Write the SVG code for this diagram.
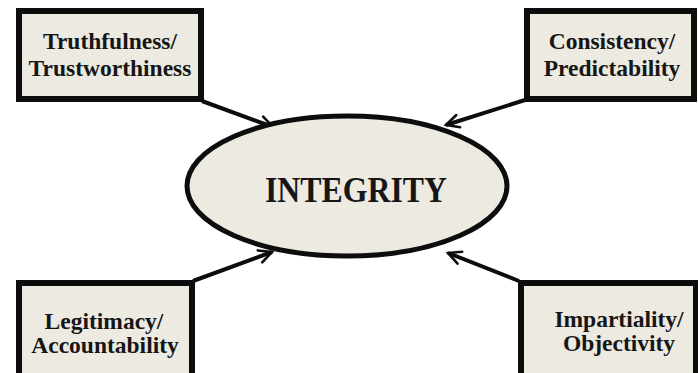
<svg xmlns="http://www.w3.org/2000/svg" width="698" height="373" viewBox="0 0 698 373">
<style>
.box{fill:#ECEAE1;stroke:#0d0d0d;stroke-width:6}
.oval{fill:#ECEAE1;stroke:#0d0d0d;stroke-width:5}
.lbl{font-family:"Liberation Serif","Times New Roman",serif;font-weight:bold;font-size:23.5px;fill:#161616;text-anchor:middle}
.big{font-family:"Liberation Serif","Times New Roman",serif;font-weight:bold;font-size:36px;fill:#161616;text-anchor:middle}
.conn{stroke:#0d0d0d;stroke-width:4;fill:none;marker-end:url(#arr)}
</style>
<defs>
<marker id="arr" viewBox="0 0 10 10" refX="9" refY="5" markerWidth="4" markerHeight="4" orient="auto" markerUnits="strokeWidth">
<path d="M1,1 L9,5 L1,9" fill="none" stroke="#0d0d0d" stroke-width="1.6" stroke-linecap="round" stroke-linejoin="miter"/>
</marker>
</defs>
<rect width="698" height="373" fill="#ffffff"/>
<g id="connectors">
<line class="conn" x1="202" y1="101" x2="273" y2="127"/>
<line class="conn" x1="525" y1="100" x2="446" y2="125"/>
<line class="conn" x1="193" y1="281" x2="272" y2="252"/>
<line class="conn" x1="519" y1="281" x2="448" y2="253"/>
</g>
<g id="integrity">
<ellipse class="oval" cx="347" cy="186" rx="160" ry="70"/>
<text class="big" x="356" y="202" textLength="182" lengthAdjust="spacingAndGlyphs">INTEGRITY</text>
</g>
<g id="truthfulness">
<rect class="box" x="19" y="11" width="182" height="88"/>
<text class="lbl" x="110" y="49">Truthfulness/</text>
<text class="lbl" x="110" y="76">Trustworthiness</text>
</g>
<g id="consistency">
<rect class="box" x="527" y="11" width="167" height="88"/>
<text class="lbl" x="612" y="49">Consistency/</text>
<text class="lbl" x="612" y="76">Predictability</text>
</g>
<g id="legitimacy">
<rect class="box" x="19" y="283" width="173" height="100"/>
<text class="lbl" x="104" y="329">Legitimacy/</text>
<text class="lbl" x="105" y="353">Accountability</text>
</g>
<g id="impartiality">
<rect class="box" x="521" y="283" width="175" height="100"/>
<text class="lbl" x="619" y="327">Impartiality/</text>
<text class="lbl" x="619" y="351">Objectivity</text>
</g>
</svg>
